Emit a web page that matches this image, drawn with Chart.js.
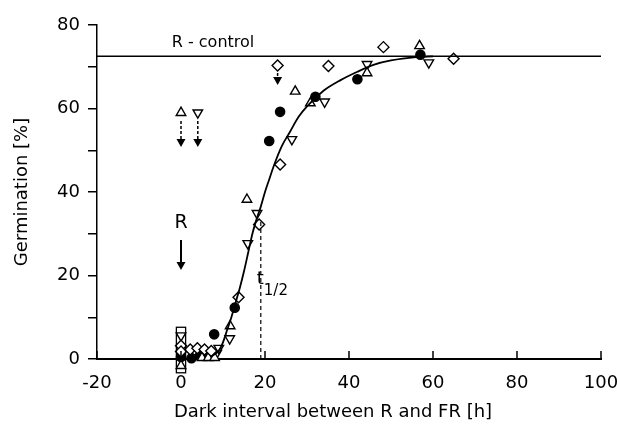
<!DOCTYPE html>
<html>
<head>
<meta charset="utf-8">
<script src="https://cdn.jsdelivr.net/npm/chart.js@4"></script>
<style>
  html, body { margin: 0; padding: 0; background: #fff; }
  #wrap { width: 617px; height: 432px; }
</style>
</head>
<body>
<div id="wrap"><canvas id="germChart" width="617" height="432"></canvas></div>
<script>
// axis ticks
const xTickValues = [-20, 0, 20, 40, 60, 80, 100];
const yTickValues = [0, 20, 40, 60, 80];

// filled circles
const circleX = [0, 2.5, 4.5, 6, 7.9, 12.8, 21, 23.6, 32, 42, 57];
const circleY = [0.5, 0.2, 0.8, 1, 5.9, 12.3, 52.2, 59.2, 62.8, 67, 72.9];

// open triangles (apex up)
const triUpX = [0, 5, 6.5, 8, 11.7, 15.7, 27.2, 30.8, 44.3, 56.8, 0];
const triUpY = [-1.6, 0.3, 0.3, 0.3, 7.9, 38.2, 64.1, 61.3, 68.5, 75, 59];

// open triangles (apex down)
const triDownX = [0, 8.5, 9, 11.6, 15.9, 18.1, 26.4, 34.2, 44.3, 59, 4];
const triDownY = [5.6, 1.4, 2.6, 4.9, 27.7, 34.9, 52.6, 61.6, 70.6, 71, 59];

// open diamonds
const diamondX = [0, 0, 2.2, 3.9, 5.6, 7.2, 13.7, 18.6, 23.6, 35.1, 48.2, 64.9, 23];
const diamondY = [3.2, 1.8, 2.3, 2.6, 2.3, 1.9, 14.8, 32.2, 46.6, 70.2, 74.7, 71.9, 70.3];

// fitted curve
const curveX = [7, 9, 10, 11, 12, 13, 14, 15, 16, 17, 18, 19, 20, 21, 22, 24, 26, 28, 30, 34, 38, 42, 46, 50, 56, 60];
const curveY = [0.5, 2, 4, 7, 10, 13.5, 17, 21, 25.5, 30, 33.5, 36.5, 40, 43, 46, 51, 54.5, 58, 60.5, 64.3, 66.8, 68.8, 70.5, 71.5, 72.3, 72.5];

// R control level and half-time
const controlLevel = 72.5;
const tHalf = 19;
const tHalfTop = 33;

// arrows: x, start value, tip value
const arrowX = [0, 0, 4, 23];
const arrowFrom = [28.5, 57, 57, 68.5];
const arrowTo = [21.3, 50.8, 50.8, 65.6];
const arrowDashed = [false, true, true, true];

// box around the overlapping points at t = 0
const boxX = [-1.1, 1.1];
const boxY = [-3.3, 7.6];

const toXY = (xs, ys) => xs.map((x, i) => ({ x: x, y: ys[i] }));

const FONT = "'DejaVu Sans', sans-serif";

const extras = {
  id: 'extras',
  afterDatasetsDraw(chart) {
    const c = chart.ctx;
    const xs = chart.scales.x;
    const ys = chart.scales.y;
    c.save();
    c.strokeStyle = '#000';
    c.fillStyle = '#000';

    // inward ticks on the x axis
    c.lineWidth = 1.5;
    xTickValues.forEach(v => {
      const px = xs.getPixelForValue(v);
      c.beginPath();
      c.moveTo(px, ys.bottom);
      c.lineTo(px, ys.bottom - 8);
      c.stroke();
    });

    // box at t = 0
    c.lineWidth = 1.3;
    const bx0 = xs.getPixelForValue(boxX[0]);
    const bx1 = xs.getPixelForValue(boxX[1]);
    const by0 = ys.getPixelForValue(boxY[0]);
    const by1 = ys.getPixelForValue(boxY[1]);
    c.strokeRect(bx0, by1, bx1 - bx0, by0 - by1);

    // arrows
    arrowX.forEach((ax, i) => {
      const px = xs.getPixelForValue(ax);
      const p0 = ys.getPixelForValue(arrowFrom[i]);
      const p1 = ys.getPixelForValue(arrowTo[i]);
      c.lineWidth = arrowDashed[i] ? 1.5 : 2;
      c.setLineDash(arrowDashed[i] ? [3, 2] : []);
      c.beginPath();
      c.moveTo(px, p0);
      c.lineTo(px, p1 - 7);
      c.stroke();
      c.setLineDash([]);
      c.beginPath();
      c.moveTo(px - 4.5, p1 - 8);
      c.lineTo(px + 4.5, p1 - 8);
      c.lineTo(px, p1);
      c.closePath();
      c.fill();
    });

    // text labels
    c.textBaseline = 'middle';
    c.textAlign = 'left';
    c.font = '16px ' + FONT;
    c.fillText('R - control', xs.getPixelForValue(-2.2), ys.getPixelForValue(controlLevel) - 13);

    c.textAlign = 'center';
    c.font = '19px ' + FONT;
    c.fillText('R', xs.getPixelForValue(0), ys.getPixelForValue(32.6));

    c.textAlign = 'left';
    c.textBaseline = 'alphabetic';
    c.font = '18px ' + FONT;
    const tx = xs.getPixelForValue(tHalf) - 4;
    const ty = ys.getPixelForValue(18);
    c.fillText('t', tx, ty);
    c.font = '15px ' + FONT;
    c.fillText('1/2', tx + 7, ty + 11);

    // x axis title
    c.textAlign = 'center';
    c.textBaseline = 'middle';
    c.font = '18px ' + FONT;
    c.fillText('Dark interval between R and FR [h]', 333, 412);
    c.restore();
  }
};

const markerBase = {
  type: 'scatter',
  borderColor: '#000',
  borderWidth: 1.4,
  backgroundColor: '#fff',
  clip: false
};

new Chart(document.getElementById('germChart'), {
  type: 'scatter',
  data: {
    datasets: [
      {
        type: 'line',
        data: [{ x: -20, y: controlLevel }, { x: 100, y: controlLevel }],
        borderColor: '#000',
        borderWidth: 1.5,
        pointRadius: 0
      },
      {
        type: 'line',
        data: toXY(curveX, curveY),
        borderColor: '#000',
        borderWidth: 1.8,
        pointRadius: 0,
        cubicInterpolationMode: 'monotone'
      },
      {
        type: 'line',
        data: [{ x: tHalf, y: 0 }, { x: tHalf, y: tHalfTop }],
        borderColor: '#000',
        borderWidth: 1.2,
        borderDash: [4, 3],
        pointRadius: 0
      },
      Object.assign({}, markerBase, {
        data: toXY(diamondX, diamondY),
        pointStyle: 'rectRot',
        pointRadius: 5.5
      }),
      Object.assign({}, markerBase, {
        data: toXY(triUpX, triUpY),
        pointStyle: 'triangle',
        pointRadius: 5.5
      }),
      Object.assign({}, markerBase, {
        data: toXY(triDownX, triDownY),
        pointStyle: 'triangle',
        rotation: 180,
        pointRadius: 5.5
      }),
      Object.assign({}, markerBase, {
        data: toXY(circleX, circleY),
        pointStyle: 'circle',
        backgroundColor: '#000',
        pointRadius: 4.6
      })
    ]
  },
  options: {
    responsive: false,
    animation: false,
    events: [],
    layout: { padding: { top: 25, right: 0, left: 0, bottom: 0 } },
    plugins: {
      legend: { display: false },
      tooltip: { enabled: false }
    },
    scales: {
      x: {
        type: 'linear',
        min: -20,
        max: 100,
        afterFit: (scale) => {
          scale.height = 73;
          scale.paddingRight = 16;
          scale.paddingLeft = 0;
        },
        afterBuildTicks: (scale) => { scale.ticks = xTickValues.map(v => ({ value: v })); },
        grid: { drawOnChartArea: false, drawTicks: false },
        border: { color: '#000', width: 2 },
        ticks: {
          color: '#000',
          padding: 14,
          font: { family: FONT, size: 18 },
          callback: (v) => String(v)
        }
      },
      y: {
        type: 'linear',
        min: 0,
        max: 80,
        afterFit: (scale) => { scale.width = 97; },
        grid: { drawOnChartArea: false, tickLength: 9, color: '#000', lineWidth: 1.5 },
        border: { color: '#000', width: 1.5 },
        ticks: {
          stepSize: 10,
          color: '#000',
          padding: 8,
          font: { family: FONT, size: 18 },
          callback: (v) => yTickValues.includes(v) ? String(v) : ''
        },
        title: {
          display: true,
          text: 'Germination [%]',
          color: '#000',
          padding: { top: 12 },
          font: { family: FONT, size: 18 }
        }
      }
    }
  },
  plugins: [extras]
});
</script>
</body>
</html>
